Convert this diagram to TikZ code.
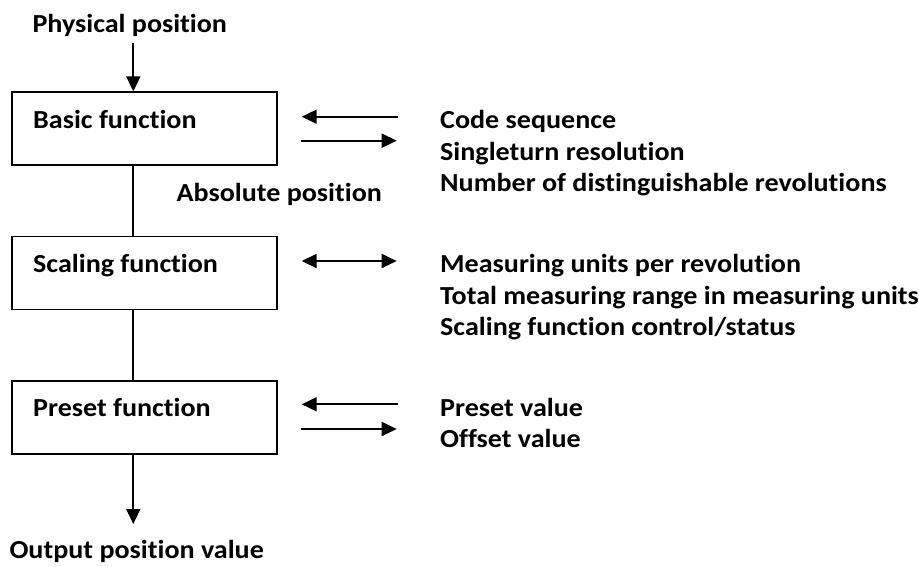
\documentclass[tikz,border=0pt]{standalone}
\usepackage{fontspec}
\setmainfont[FakeStretch=1.08,RawFeature=-liga]{Carlito}
\usetikzlibrary{arrows.meta}
\begin{document}
\begin{tikzpicture}[x=1pt,y=-1pt,
  lbl/.style={anchor=base west,inner sep=0pt,font=\fontsize{26}{30}\bfseries},
  fbox/.style={draw,line width=1.8pt,minimum width=265pt,minimum height=73pt,inner sep=0pt},
  conn/.style={line width=1.8pt},
  arr/.style={conn,-{Triangle[length=15pt,width=14pt]}},
  darr/.style={conn,{Triangle[length=15pt,width=14pt]}-{Triangle[length=15pt,width=14pt]}}]
\useasboundingbox (0,0) rectangle (919,566);
% boxes
\node[fbox] (basic) at (144.8,128.8) {};
\node[fbox] (scal) at (144.8,273) {};
\node[fbox] (pres) at (144.8,417.2) {};
% box labels
\node[lbl] (basicT) at (33,128.5) {Basic function};
\node[lbl] (scalT) at (33,272.5) {Scaling function};
\node[lbl] (presT) at (33,416.7) {Preset function};
% free texts
\node[lbl] (phys) at (32.3,32.3) {Physical position};
\node[lbl] (absp) at (176.5,201) {Absolute position};
\node[lbl] (outp) at (9.3,558.5) {Output position value};
\node[lbl] (t1) at (440,128.8) {Code sequence};
\node[lbl] (t2) at (440,160) {Singleturn resolution};
\node[lbl] (t3) at (440,191.7) {Number of distinguishable revolutions};
\node[lbl] (t4) at (440,272.5) {Measuring units per revolution};
\node[lbl] (t5) at (440,304.5) {Total measuring range in measuring units};
\node[lbl] (t6) at (440,335.5) {Scaling function control/status};
\node[lbl] (t7) at (440,416) {Preset value};
\node[lbl] (t8) at (440,447) {Offset value};
% vertical connectors
\coordinate (physB) at (133.3,43.3);
\coordinate (outA) at (133.3,524);
\draw[arr] (physB) -- (basic.north -| physB);
\draw[conn] (basic.south -| physB) -- (scal.north -| physB);
\draw[conn] (scal.south -| physB) -- (pres.north -| physB);
\draw[arr] (pres.south -| physB) -- (outA);
% horizontal arrows
\coordinate (a1s) at (397.7,116.7); \coordinate (a1e) at (301.7,116.7);
\coordinate (a2s) at (300.5,140.7); \coordinate (a2e) at (396.7,140.7);
\coordinate (a3s) at (301.7,261); \coordinate (a3e) at (396.7,261);
\coordinate (a4s) at (397.7,404.3); \coordinate (a4e) at (301.7,404.3);
\coordinate (a5s) at (300.5,429); \coordinate (a5e) at (396.7,429);
\draw[arr] (a1s) -- (a1e);
\draw[arr] (a2s) -- (a2e);
\draw[darr] (a3s) -- (a3e);
\draw[arr] (a4s) -- (a4e);
\draw[arr] (a5s) -- (a5e);
\end{tikzpicture}
\end{document}
